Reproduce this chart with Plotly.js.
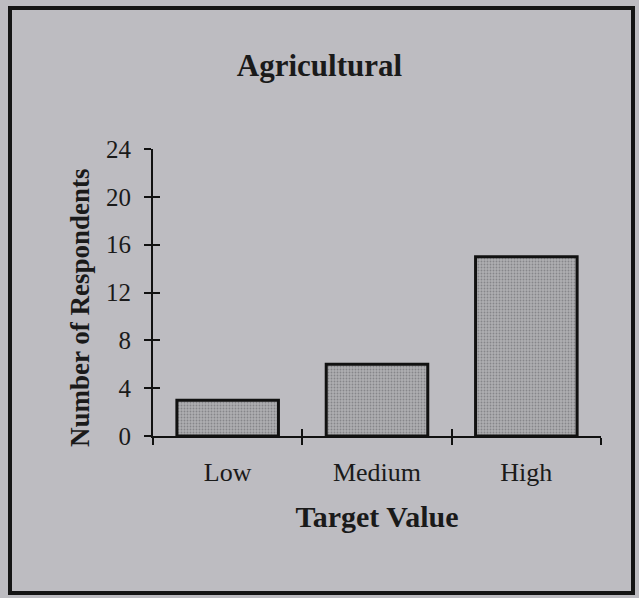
<!DOCTYPE html>
<html>
<head>
<meta charset="utf-8">
<script src="https://cdn.plot.ly/plotly-3.0.1.min.js"></script>
<style>
  html, body { margin: 0; padding: 0; background: #bdbcc1; }
  #chart { width: 639px; height: 598px; }
</style>
</head>
<body>
<div id="chart"></div>
<script>
const categories = ["Low", "Medium", "High"];
const respondents = [3, 6, 15];
const yTickValues = [0, 4, 8, 12, 16, 20, 24];

const serif = "Liberation Serif, Times New Roman, serif";
const bg = "#bdbcc1";

const traces = [
  {
    type: "bar",
    x: categories,
    y: respondents,
    width: 0.68,
    marker: {
      color: "#a9a9ac",
      line: { color: "#111111", width: 3 },
      pattern: { shape: ".", fgcolor: "#86868a", bgcolor: "#afafb2", size: 3, solidity: 0.3 }
    },
    hoverinfo: "skip",
    showlegend: false
  },
  {
    type: "scatter",
    mode: "markers",
    x: categories,
    y: respondents,
    xaxis: "x2",
    yaxis: "y2",
    marker: { opacity: 0 },
    hoverinfo: "skip",
    showlegend: false
  }
];

const layout = {
  width: 639,
  height: 598,
  paper_bgcolor: bg,
  plot_bgcolor: bg,
  margin: { l: 153, r: 38, t: 149, b: 162 },
  font: { family: serif, color: "#1a1a1a" },
  title: {
    text: "<b>Agricultural</b>",
    font: { family: serif, size: 31, color: "#1a1a1a" },
    xref: "container", yref: "container",
    x: 0.5, y: 1 - 65 / 598,
    xanchor: "center", yanchor: "middle"
  },
  xaxis: {
    type: "category",
    range: [-0.5, 2.5],
    showline: true, linecolor: "#111", linewidth: 2,
    ticks: "outside", tickson: "boundaries", ticklen: 7, tickwidth: 2, tickcolor: "#111",
    tickfont: { family: serif, size: 26, color: "#1a1a1a" },
    ticklabelstandoff: 12,
    showgrid: false, zeroline: false,
    title: { text: "<b>Target Value</b>", font: { family: serif, size: 30, color: "#1a1a1a" }, standoff: 20 }
  },
  xaxis2: {
    type: "category",
    overlaying: "x",
    range: [-0.5, 2.5],
    showline: false,
    ticks: "inside", tickson: "boundaries", ticklen: 7, tickwidth: 2, tickcolor: "#111",
    showticklabels: false, showgrid: false, zeroline: false,
    side: "bottom"
  },
  yaxis: {
    range: [0, 24],
    tickvals: yTickValues,
    showline: true, linecolor: "#111", linewidth: 2,
    ticks: "outside", ticklen: 7, tickwidth: 2, tickcolor: "#111",
    tickfont: { family: serif, size: 25, color: "#1a1a1a" },
    ticklabelstandoff: 8,
    showgrid: false, zeroline: false
  },
  yaxis2: {
    range: [0, 24],
    overlaying: "y",
    side: "left",
    tickvals: yTickValues,
    ticks: "inside", ticklen: 7, tickwidth: 2, tickcolor: "#111",
    showticklabels: false, showgrid: false, zeroline: false, showline: false
  },
  annotations: [
    {
      text: "<b>Number of Respondents</b>",
      textangle: -90,
      xref: "paper", yref: "paper",
      x: (80 - 153) / 448, y: (436 - 308) / 287,
      xanchor: "center", yanchor: "middle",
      showarrow: false,
      font: { family: serif, size: 27, color: "#1a1a1a" }
    }
  ],
  shapes: [
    {
      type: "rect", xref: "paper", yref: "paper",
      x0: (10 - 153) / 448, x1: (633 - 153) / 448,
      y0: (436 - 593) / 287, y1: (436 - 8) / 287,
      line: { color: "#151515", width: 4 },
      fillcolor: "rgba(0,0,0,0)",
      layer: "above"
    }
  ]
};

Plotly.newPlot("chart", traces, layout, { displayModeBar: false, staticPlot: true });
</script>
</body>
</html>
